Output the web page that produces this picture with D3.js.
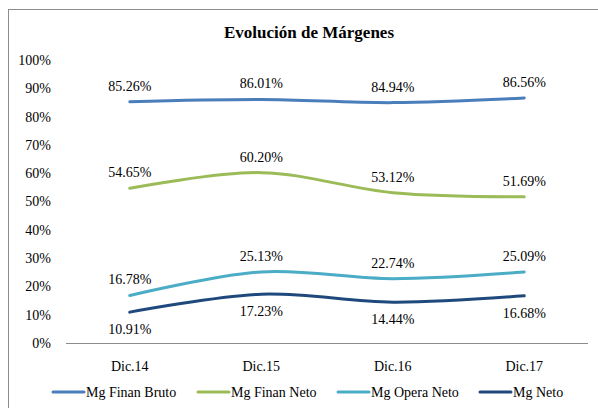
<!DOCTYPE html>
<html>
<head>
<meta charset="utf-8">
<script src="https://cdn.jsdelivr.net/npm/d3@7"></script>
<style>
  body { margin: 0; background: #fff; }
  svg { display: block; }
  svg text { font-family: "Liberation Serif", "Times New Roman", serif; }
</style>
</head>
<body>
<div id="vis"></div>
<script>
// data
const categories = ["Dic.14", "Dic.15", "Dic.16", "Dic.17"];
const seriesNames = ["Mg Finan Bruto", "Mg Finan Neto", "Mg Opera Neto", "Mg Neto"];
const finanBruto = [0.8526, 0.8601, 0.8494, 0.8656];
const finanNeto = [0.5465, 0.6020, 0.5312, 0.5169];
const operaNeto = [0.1678, 0.2513, 0.2274, 0.2509];
const mgNeto = [0.1091, 0.1723, 0.1444, 0.1668];
const yTicks = [0, 0.1, 0.2, 0.3, 0.4, 0.5, 0.6, 0.7, 0.8, 0.9, 1.0];

const colors = ["#4A7EBB", "#9BBB59", "#4BACC6", "#1F497D"];
const labelSide = ["above", "above", "above", "below"];
const allValues = [finanBruto, finanNeto, operaNeto, mgNeto];

const FONT = "Liberation Serif";
const W = 598, H = 408;
const margin = {top: 60, right: 8, bottom: 65, left: 64};

const svg = d3.select("#vis").append("svg")
  .attr("width", W)
  .attr("height", H)
  .attr("font-family", FONT);

svg.append("rect")
  .attr("width", W).attr("height", H).attr("fill", "#fff");

// chart frame (cut off at right and bottom)
svg.append("rect")
  .attr("x", 8.5).attr("y", 9.5)
  .attr("width", W + 10).attr("height", H + 10)
  .attr("fill", "none")
  .attr("stroke", "#8c8c8c")
  .attr("stroke-width", 1);

svg.append("text")
  .attr("x", 309).attr("y", 38)
  .attr("text-anchor", "middle")
  .attr("font-family", FONT)
  .attr("font-weight", "bold")
  .attr("font-size", 17)
  .text("Evolución de Márgenes");

const x = d3.scaleBand()
  .domain(categories)
  .range([margin.left, W - margin.right]);

const y = d3.scaleLinear()
  .domain([0, 1])
  .range([H - margin.bottom, margin.top]); // 0% at 343, 100% at 60

const cx = d => x(d) + x.bandwidth() / 2;

// y tick labels (no axis line)
const yAxis = d3.axisLeft(y)
  .tickValues(yTicks)
  .tickFormat(d3.format(".0%"))
  .tickSize(0)
  .tickPadding(0);
const yg = svg.append("g")
  .attr("transform", "translate(51,0)")
  .call(yAxis)
  .attr("font-family", FONT);
yg.select(".domain").remove();
yg.selectAll("text")
  .attr("font-family", FONT)
  .attr("font-size", 14)
  .attr("fill", "#000");

// x axis
const xAxis = d3.axisBottom(x).tickSize(0).tickPadding(14);
const xg = svg.append("g")
  .attr("transform", `translate(0,${y(0) + 0.5})`)
  .call(xAxis)
  .attr("font-family", FONT);
xg.select(".domain")
  .attr("stroke", "#8c8c8c")
  .attr("d", `M${margin.left + 2},0H${W - margin.right - 2}`);
xg.selectAll("text")
  .attr("font-family", FONT)
  .attr("font-size", 14)
  .attr("fill", "#000")
  .attr("dy", "0.95em");

const line = d3.line()
  .x((d, i) => cx(categories[i]))
  .y(d => y(d))
  .curve(d3.curveCatmullRom.alpha(0));

const g = svg.append("g");
allValues.forEach((vals, s) => {
  g.append("path")
    .datum(vals)
    .attr("d", line)
    .attr("fill", "none")
    .attr("stroke", colors[s])
    .attr("stroke-width", 3)
    .attr("stroke-linecap", "round");

  g.selectAll(null)
    .data(vals)
    .join("text")
    .attr("x", (d, i) => cx(categories[i]))
    .attr("y", d => y(d) + (labelSide[s] === "above" ? -16 : 17))
    .attr("dy", "0.35em")
    .attr("text-anchor", "middle")
    .attr("font-family", FONT)
    .attr("font-size", 14)
    .text(d => d3.format(".2%")(d));
});

// legend
const legendX = [53, 198, 338, 480];
const leg = svg.append("g").attr("transform", "translate(0,392)");
seriesNames.forEach((name, s) => {
  const item = leg.append("g").attr("transform", `translate(${legendX[s]},0)`);
  item.append("line")
    .attr("x1", 0).attr("x2", 31)
    .attr("stroke", colors[s])
    .attr("stroke-width", 3)
    .attr("stroke-linecap", "round");
  item.append("text")
    .attr("x", 33)
    .attr("dy", "0.35em")
    .attr("font-family", FONT)
    .attr("font-size", 14)
    .text(name);
});
</script>
</body>
</html>
